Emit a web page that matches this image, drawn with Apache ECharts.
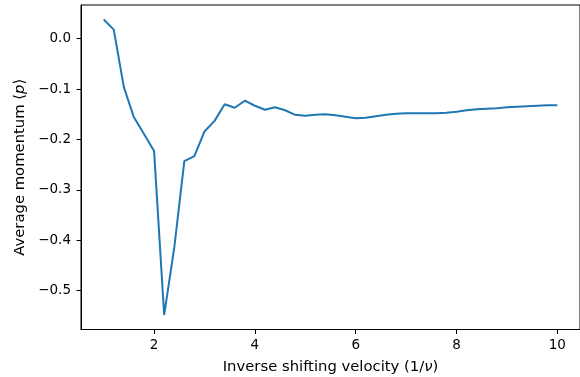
<!DOCTYPE html>
<html><head><meta charset="utf-8">
<script src="https://cdn.jsdelivr.net/npm/echarts@6/dist/echarts.min.js"></script>
<style>html,body{margin:0;padding:0;background:#fff}#c{width:580px;height:377px}</style>
</head><body><div id="c"></div>
<script>
const xValues = [1.0,1.2,1.4,1.6,1.8,2.0,2.2,2.4,2.6,2.8,3.0,3.2,3.4,3.6,3.8,4.0,4.2,4.4,4.6,4.8,5.0,5.2,5.4,5.6,5.8,6.0,6.2,6.4,6.6,6.8,7.0,7.2,7.4,7.6,7.8,8.0,8.2,8.4,8.6,8.8,9.0,9.2,9.4,9.6,9.8,10.0];
const momentum = [0.038,0.018,-0.096,-0.156,-0.189,-0.223,-0.548,-0.415,-0.243,-0.233,-0.184,-0.163,-0.130,-0.137,-0.123,-0.133,-0.141,-0.136,-0.142,-0.151,-0.153,-0.151,-0.150,-0.152,-0.155,-0.158,-0.157,-0.154,-0.151,-0.149,-0.148,-0.148,-0.148,-0.148,-0.147,-0.145,-0.142,-0.140,-0.139,-0.138,-0.136,-0.135,-0.134,-0.133,-0.132,-0.132];
const xTicks = [2,4,6,8,10];
const yTicks = [-0.5,-0.4,-0.3,-0.2,-0.1,0.0];

const chart = echarts.init(document.getElementById('c'));
const font = 'DejaVu Sans';
const nameSize = 14.8;
const tickSize = 13.5;
const fmt = v => (v < 0 ? '\u2212' : '') + Math.abs(v).toFixed(1);
const nameRich = {
  r: {fontFamily: font, fontSize: nameSize, color: '#000'},
  i: {fontFamily: font, fontStyle: 'italic', fontSize: nameSize, color: '#000'}
};
chart.setOption({
  animation: false,
  grid: {left: 81, top: 5, right: 0, bottom: 47.5, show: true, borderColor: '#000', borderWidth: 1, containLabel: false, outerBoundsMode: 'none'},
  xAxis: {
    type: 'value', min: 0.55, max: 10.45,
    axisLine: {show: true, onZero: false, lineStyle: {color: '#000', width: 1}},
    axisTick: {show: true, customValues: xTicks, length: 4.5, lineStyle: {color: '#000'}},
    axisLabel: {customValues: xTicks, color: '#000', fontFamily: font, fontSize: tickSize, margin: 9},
    splitLine: {show: false},
    name: '{r|Inverse shifting velocity (1/}{i|ν}{r|)}',
    nameLocation: 'middle', nameGap: 30,
    nameTextStyle: {rich: nameRich}
  },
  yAxis: {
    type: 'value', min: -0.577, max: 0.0669,
    axisLine: {show: true, onZero: false, lineStyle: {color: '#000', width: 1}},
    axisTick: {show: true, customValues: yTicks, length: 4.5, lineStyle: {color: '#000'}},
    axisLabel: {customValues: yTicks, color: '#000', fontFamily: font, fontSize: tickSize, margin: 10, formatter: fmt},
    splitLine: {show: false},
    name: '{r|Average momentum ⟨}{i|p}{r|⟩}',
    nameLocation: 'middle', nameGap: 53,
    nameTextStyle: {rich: nameRich}
  },
  series: [{
    type: 'line',
    data: xValues.map((x, i) => [x, momentum[i]]),
    showSymbol: false,
    lineStyle: {color: '#1f77b4', width: 2},
    itemStyle: {color: '#1f77b4'}
  }]
});
</script></body></html>
